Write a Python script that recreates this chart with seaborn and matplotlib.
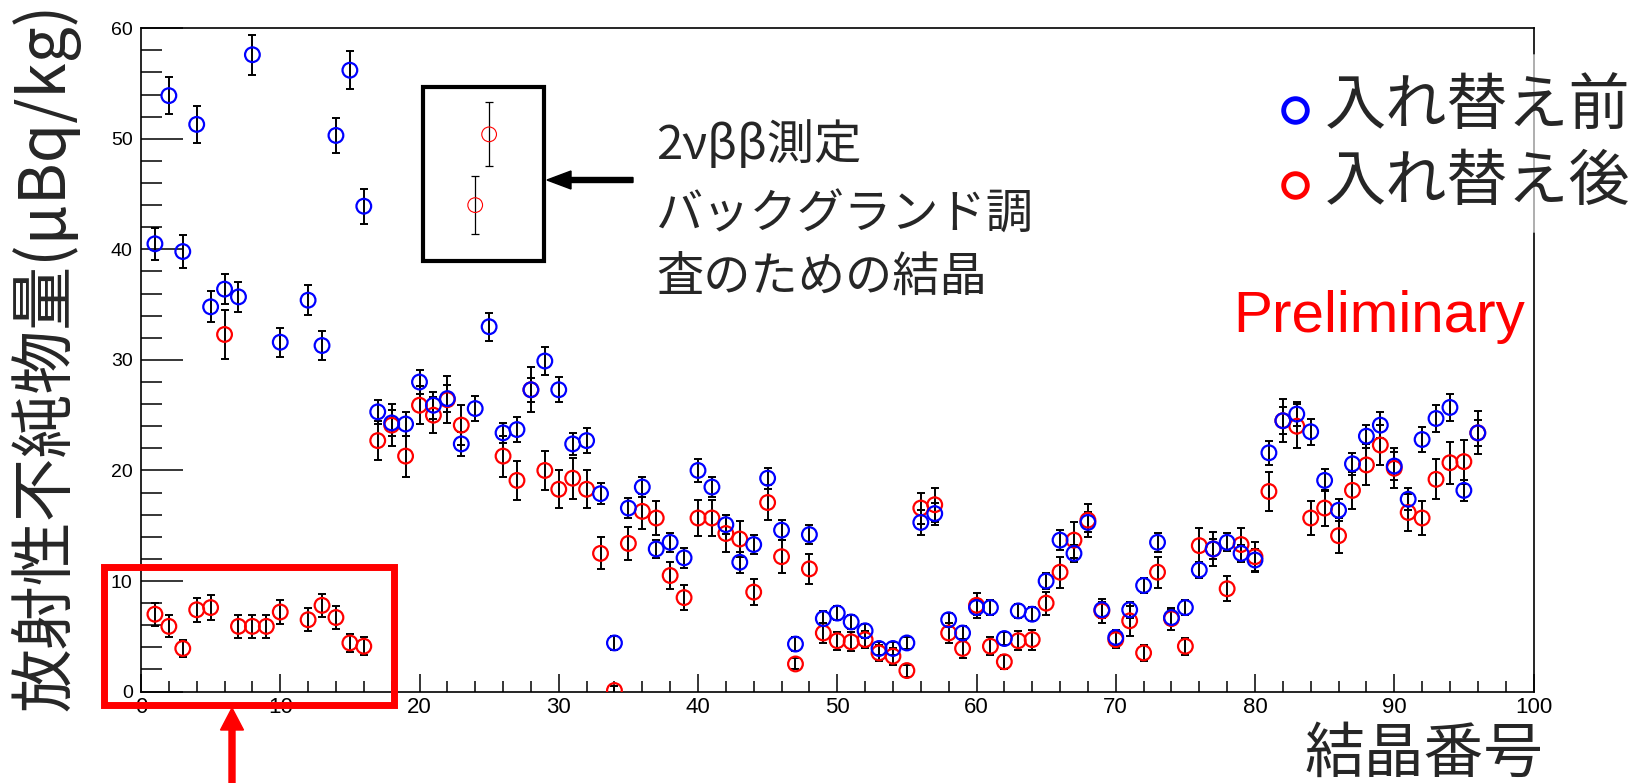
import numpy as np
import pandas as pd
import matplotlib
matplotlib.use("Agg")
import matplotlib.pyplot as plt
import seaborn as sns
from matplotlib.patches import Rectangle, FancyArrow
from matplotlib.lines import Line2D
from matplotlib.ticker import MultipleLocator
from matplotlib.transforms import IdentityTransform

nan = np.nan

# ---------------- data ----------------
crystal = list(range(1, 97))

before = [40.5, 53.9, 39.8, 51.3, 34.8, 36.4, 35.7, 57.6, nan, 31.6,
          nan, 35.4, 31.3, 50.3, 56.2, 43.9, 25.3, 24.3, 24.2, 28.0,
          25.9, 26.5, 22.4, 25.6, 33.0, 23.4, 23.7, 27.3, 29.9, 27.3,
          22.4, 22.7, 17.9, 4.4, 16.6, 18.5, 12.9, 13.5, 12.1, 20.0,
          18.5, 15.1, 11.7, 13.3, 19.3, 14.6, 4.3, 14.2, 6.6, 7.1,
          6.3, 5.5, 3.9, 3.9, 4.4, 15.3, 16.1, 6.5, 5.3, 7.6,
          7.6, 4.8, 7.3, 7.0, 10.0, 13.7, 12.5, 15.3, 7.4, 4.9,
          7.4, 9.6, 13.5, 6.7, 7.6, 11.0, 12.9, 13.5, 12.5, 11.9,
          21.6, 24.5, 25.1, 23.5, 19.1, 16.4, 20.6, 23.1, 24.1, 20.4,
          17.4, 22.8, 24.7, 25.7, 18.2, 23.4]

before_err = [1.45, 1.7, 1.5, 1.7, 1.4, 1.35, 1.35, 1.8, nan, 1.3,
              nan, 1.35, 1.3, 1.6, 1.7, 1.6, 1.1, 1.2, 1.05, 1.1,
              1.2, 1.2, 1.1, 1.1, 1.25, 0.9, 1.1, 1.1, 1.25, 1.15,
              1.0, 1.1, 0.95, 0.65, 0.9, 0.9, 0.85, 0.85, 0.9, 1.0,
              0.9, 0.85, 0.95, 0.9, 0.95, 0.9, 0.65, 0.85, 0.65, 0.65,
              0.65, 0.65, 0.6, 0.55, 0.55, 1.1, 1.0, 0.65, 0.6, 0.7,
              0.65, 0.6, 0.65, 0.65, 0.7, 0.9, 0.8, 0.9, 0.7, 0.65,
              0.7, 0.7, 0.85, 0.7, 0.65, 0.75, 0.9, 0.8, 0.75, 1.0,
              1.1, 1.2, 1.05, 1.2, 1.0, 1.0, 1.0, 1.05, 1.15, 1.25,
              1.0, 1.1, 1.2, 1.2, 0.95, 1.2]

after = [7.0, 5.9, 3.9, 7.4, 7.6, 32.3, 5.9, 5.9, 5.9, 7.2,
         nan, 6.5, 7.8, 6.7, 4.4, 4.1, 22.7, 24.1, 21.3, 25.9,
         25.0, 26.4, 24.1, 44.0, 50.4, 21.3, 19.1, 27.3, 20.0, 18.3,
         19.3, 18.3, 12.5, 0.1, 13.4, 16.3, 15.7, 10.5, 8.5, 15.7,
         15.7, 14.3, 13.8, 9.0, 17.1, 12.2, 2.5, 11.1, 5.3, 4.6,
         4.5, 4.7, 3.5, 3.2, 1.9, 16.6, 16.9, 5.3, 3.9, 7.8,
         4.1, 2.7, 4.6, 4.7, 8.0, 10.8, 13.7, 15.5, 7.3, 4.7,
         6.4, 3.5, 10.8, 6.6, 4.1, 13.2, 12.9, 9.3, 13.3, 12.2,
         18.1, 24.5, 24.0, 15.7, 16.6, 14.1, 18.2, 20.5, 22.3, 20.2,
         16.2, 15.7, 19.2, 20.7, 20.8, 23.4]

after_err = [1.05, 1.0, 0.75, 1.1, 1.1, 2.25, 1.05, 1.05, 1.05, 1.1,
             nan, 1.05, 1.05, 1.05, 0.85, 0.8, 1.75, 1.9, 1.85, 1.7,
             1.6, 2.1, 1.8, 2.65, 2.9, 1.85, 1.75, 2.05, 1.8, 1.7,
             1.85, 1.7, 1.45, 0.4, 1.5, 1.55, 1.5, 1.25, 1.15, 1.6,
             1.6, 1.65, 1.65, 1.2, 1.6, 1.5, 0.5, 1.35, 0.9, 0.8,
             0.85, 0.8, 0.7, 0.75, 0.55, 1.4, 1.55, 0.9, 0.9, 1.1,
             0.8, 0.65, 0.85, 0.9, 1.05, 1.4, 1.6, 1.5, 1.1, 0.8,
             1.35, 0.75, 1.4, 1.0, 0.75, 1.6, 1.5, 1.15, 1.5, 1.35,
             1.75, 1.95, 2.0, 1.55, 1.65, 1.6, 1.7, 1.85, 1.85, 1.8,
             1.7, 1.55, 1.8, 1.9, 2.0, 1.95]

boxed = [24, 25]          # crystals for the 2νββ background study (inset box)

legend_labels = ["入れ替え前", "入れ替え後"]
x_label = "結晶番号"
y_label = "放射性不純物量(μBq/kg)"
note_lines = ["2νββ測定", "バックグランド調", "査のための結晶"]
prelim = "Preliminary"
x_ticks = [0, 10, 20, 30, 40, 50, 60, 70, 80, 90, 100]
y_ticks = [0, 10, 20, 30, 40, 50, 60]

# ---------------- tables ----------------
df_b = pd.DataFrame({"crystal": crystal, "value": before, "err": before_err}).dropna()
df_a = pd.DataFrame({"crystal": crystal, "value": after, "err": after_err}).dropna()
df_a_main = df_a[~df_a["crystal"].isin(boxed)]
df_a_box = df_a[df_a["crystal"].isin(boxed)]

# ---------------- figure ----------------
W, H = 1638, 783
sns.set_style("ticks")
plt.rcParams["font.family"] = ["Liberation Sans", "DejaVu Sans"]
CJK = ["Noto Sans CJK JP", "DejaVu Sans"]

fig = plt.figure(figsize=(W / 100, H / 100), dpi=100)
fig.patch.set_facecolor("white")
ax = fig.add_axes([141 / W, (H - 691.6) / H, (1533.5 - 141) / W, (691.6 - 28.2) / H])
ax.set_facecolor("white")

MS = 112
LW = 1.6

# error bars
for d, elw in ((df_a_main, 1.4), (df_b, 1.4), (df_a_box, 0.9)):
    ax.errorbar(d["crystal"], d["value"], yerr=d["err"], fmt="none",
                ecolor="black", elinewidth=elw, capsize=3.2, capthick=elw, zorder=2)

# markers
sns.scatterplot(data=df_a_main, x="crystal", y="value", ax=ax, marker="o", s=MS,
                facecolor="none", edgecolor="#ff0000", linewidth=LW, zorder=3, legend=False)
sns.scatterplot(data=df_b, x="crystal", y="value", ax=ax, marker="o", s=MS,
                facecolor="none", edgecolor="#0000ff", linewidth=LW, zorder=4, legend=False)
sns.scatterplot(data=df_a_box, x="crystal", y="value", ax=ax, marker="o", s=MS,
                facecolor="none", edgecolor="#ff0000", linewidth=0.8, zorder=4, legend=False)

ax.set_xlim(0, 100)
ax.set_ylim(0, 60)
ax.set_xlabel("")
ax.set_ylabel("")
ax.set_xticks(x_ticks)
ax.set_yticks(y_ticks)
ax.xaxis.set_minor_locator(MultipleLocator(2))
ax.yaxis.set_minor_locator(MultipleLocator(2))
ax.tick_params(which="both", direction="in", top=False, right=False, colors="black")
ax.tick_params(axis="x", which="major", length=13, width=1.1, labelsize=16, pad=4)
ax.tick_params(axis="x", which="minor", length=8, width=1.1)
ax.tick_params(axis="y", which="major", length=30, width=1.1, labelsize=14, pad=6)
ax.tick_params(axis="y", which="minor", length=15, width=1.1)
for sp in ax.spines.values():
    sp.set_visible(True)
    sp.set_linewidth(1.2)
    sp.set_color("black")

# legend box partly covers the right frame (grey segment)
ax.plot([100, 100], [41.6, 57.6], color="#b4b4b4", lw=1.4, clip_on=False, zorder=6)

T = IdentityTransform()

def fy(y):
    return H - y

# axis titles
fig.text(45, fy(357), y_label, rotation=90, ha="center", va="center",
         fontsize=46, family=CJK, transform=T)
fig.text(1544, fy(755), x_label, ha="right", va="center",
         fontsize=43, family=CJK, transform=T)

# legend (manual, like ROOT TLegend without border)
for yy, lab, col in ((110, legend_labels[0], "#0000ff"), (185, legend_labels[1], "#ff0000")):
    fig.add_artist(Line2D([1295], [fy(yy)], marker="o", ms=17, mew=3.5, mfc="none",
                          mec=col, ls="none", transform=T))
    fig.text(1325, fy(yy - 2), lab, ha="left", va="center", fontsize=44,
             family=CJK, transform=T)

# Preliminary
fig.text(1233, fy(332), prelim, ha="left", va="baseline", fontsize=42,
         color="#ff0000", transform=T)

# annotation text
for yy, line in zip((146, 215, 278), note_lines):
    fig.text(656, fy(yy), line, ha="left", va="center", fontsize=34,
             family=CJK, transform=T)

# black box around the 2νββ crystals
fig.add_artist(Rectangle((423, fy(261)), 544 - 423, 261 - 87, fill=False,
                         ec="black", lw=3.0, transform=T, zorder=10))
# black arrow
fig.add_artist(FancyArrow(633, fy(180), -(633 - 547), 0, width=5, head_width=18,
                          head_length=24, length_includes_head=True, color="black",
                          transform=T, zorder=10))
# red box around the low after-values
fig.add_artist(Rectangle((104, fy(705)), 394 - 104, 705 - 567, fill=False,
                         ec="#ff0000", lw=5.0, transform=T, zorder=10))
# red arrow
fig.add_artist(FancyArrow(232, fy(783), 0, 783 - 708, width=6, head_width=23,
                          head_length=22, length_includes_head=True, color="#ff0000",
                          transform=T, zorder=10))

fig.savefig("out.png", dpi=100, facecolor="white")
